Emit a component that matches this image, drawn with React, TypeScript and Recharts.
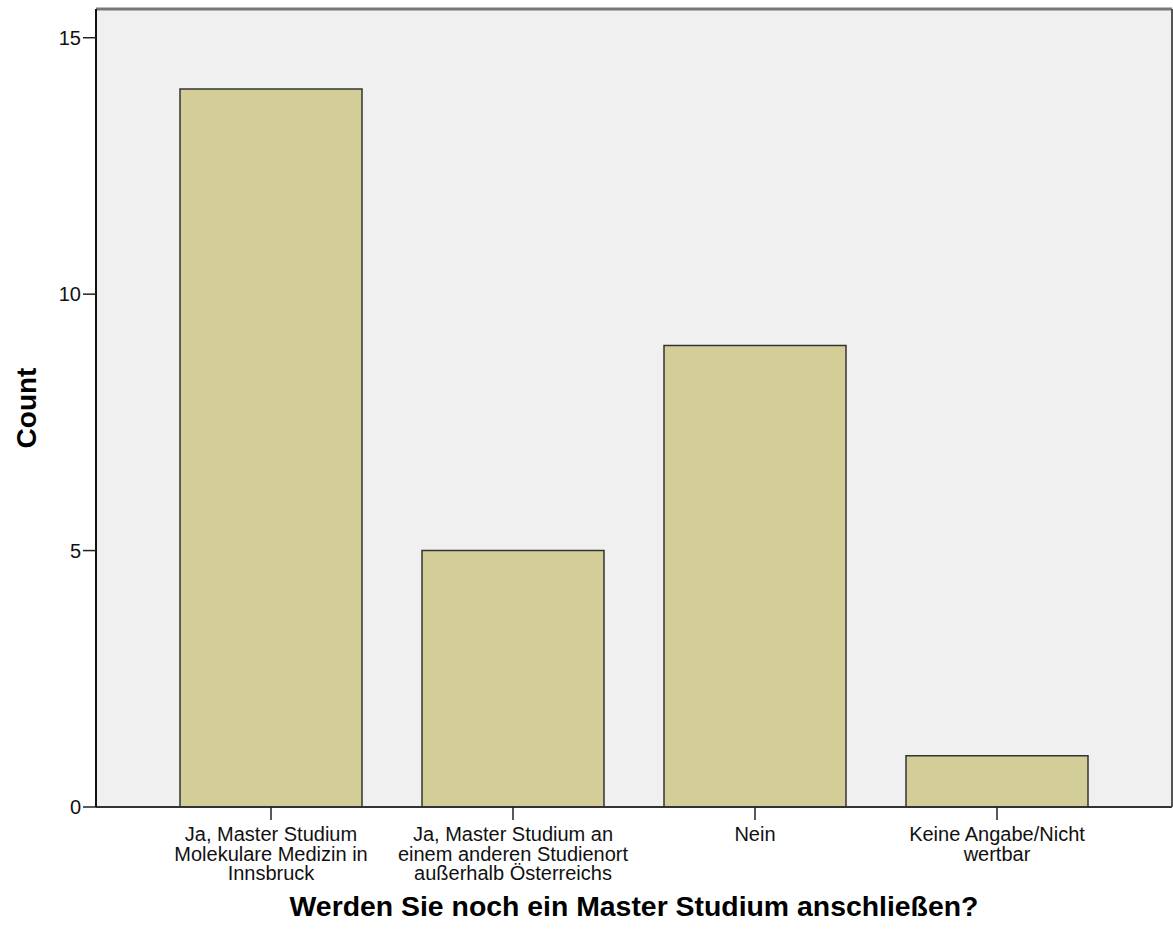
import { BarChart, Bar, XAxis, YAxis, CartesianGrid } from 'recharts'

const categories = [
  'Ja, Master Studium\nMolekulare Medizin in\nInnsbruck',
  'Ja, Master Studium an\neinem anderen Studienort\naußerhalb Österreichs',
  'Nein',
  'Keine Angabe/Nicht\nwertbar',
]
const counts = [14, 5, 9, 1]
const yTicks = [0, 5, 10, 15]

const data = categories.map((label, i) => ({ label, count: counts[i] }))

const font = '"Liberation Sans", Arial, sans-serif'

function CategoryTick(props: any) {
  const { x, y, payload } = props
  const lines = String(payload.value).split('\n')
  return (
    <text x={x} y={y} textAnchor="middle" fontSize={20} fill="#111" fontFamily={font}>
      {lines.map((line, i) => (
        <tspan key={i} x={x} dy={i === 0 ? 19 : 19.5}>
          {line}
        </tspan>
      ))}
    </text>
  )
}

function CountLabel(props: any) {
  const { viewBox } = props
  const cx = viewBox.x + 26
  const cy = viewBox.y + viewBox.height / 2
  return (
    <text
      x={cx}
      y={cy}
      transform={`rotate(-90 ${cx} ${cy})`}
      textAnchor="middle"
      dominantBaseline="central"
      fontSize={28}
      fontWeight="bold"
      fill="#000"
      fontFamily={font}
    >
      Count
    </text>
  )
}

export default function App() {
  return (
    <div style={{ position: 'absolute', left: 0, top: 0, background: '#fff' }}>
      <BarChart
        width={1173}
        height={937}
        data={data}
        margin={{ top: 0, right: 0, bottom: 0, left: 0 }}
        barSize={182}
      >
        <CartesianGrid horizontal={false} vertical={false} fill="#f0f0f0" stroke="none" />
        <XAxis
          xAxisId="top"
          orientation="top"
          height={9}
          tick={false}
          tickLine={false}
          axisLine={{ stroke: '#777', strokeWidth: 3 }}
        />
        <XAxis
          dataKey="label"
          interval={0}
          padding={{ left: 54, right: 54 }}
          height={130}
          tickSize={13}
          tick={<CategoryTick />}
          tickLine={{ stroke: '#222', strokeWidth: 1.5 }}
          axisLine={{ stroke: '#333', strokeWidth: 2 }}
          label={{
            value: 'Werden Sie noch ein Master Studium anschließen?',
            position: 'insideBottom',
            offset: 21,
            fontSize: 28.4,
            fontWeight: 'bold',
            fill: '#000',
            fontFamily: font,
          }}
        />
        <YAxis
          width={96}
          domain={[0, 15.56]}
          ticks={yTicks}
          tickSize={13}
          tick={{ fontSize: 20, fill: '#111', fontFamily: font }}
          tickLine={{ stroke: '#222', strokeWidth: 1.5 }}
          axisLine={{ stroke: '#111', strokeWidth: 2 }}
          label={<CountLabel />}
        />
        <YAxis
          yAxisId="right"
          orientation="right"
          width={1}
          tick={false}
          tickLine={false}
          axisLine={{ stroke: '#555', strokeWidth: 2 }}
        />
        <Bar
          dataKey="count"
          fill="#d3ce97"
          stroke="#333"
          strokeWidth={1.5}
          isAnimationActive={false}
        />
      </BarChart>
    </div>
  )
}
